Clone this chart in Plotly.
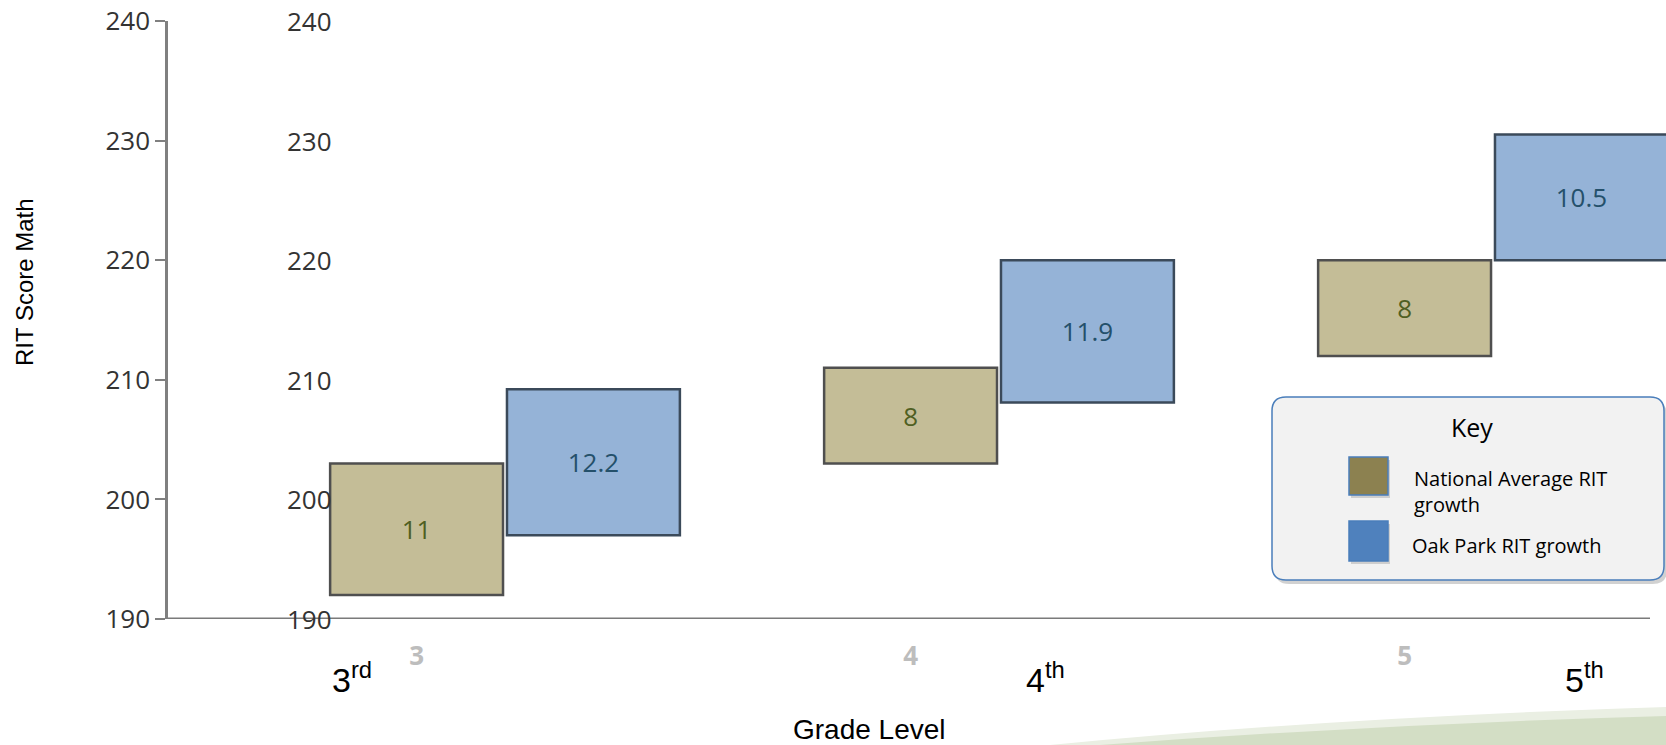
import plotly.graph_objects as go

# RIT growth by grade: each box starts at the fall score and spans the growth
grades = [3, 4, 5]
grade_tick_labels = ["3", "4", "5"]
ordinal_labels = ["3<sup>rd</sup>", "4<sup>th</sup>", "5<sup>th</sup>"]

national_start = [192, 203, 212]
national_growth = [11, 8, 8]

oak_park_start = [197, 208.1, 220]
oak_park_growth = [12.2, 11.9, 10.5]

y_ticks = [190, 200, 210, 220, 230, 240]

# ---- layout geometry (pixels) ----
W, H = 1666, 745
ML, MR, MT, MB = 168, 0, 21, 126
PW, PH = W - ML - MR, H - MT - MB
X_RANGE = [2.3178, 5.3502]
BAR_W = 0.35
NAT_OFF = -0.354
OAK_OFF = 0.004


def px(x):
    return (x - ML) / PW


def py(y):
    return (H - MB - y) / PH


fig = go.Figure()

fig.add_trace(go.Bar(
    x=grades, y=national_growth, base=national_start,
    width=BAR_W, offset=NAT_OFF,
    marker=dict(color="#C4BD97", line=dict(color="#4F4F4F", width=2.5)),
    text=[f"{v:g}" for v in national_growth], texttemplate="%{text}",
    textposition="inside", insidetextanchor="middle", textangle=0,
    constraintext="none",
    textfont=dict(family="Open Sans", size=26, color="#4F5F22"),
    hoverinfo="skip", showlegend=False,
))

fig.add_trace(go.Bar(
    x=grades, y=oak_park_growth, base=oak_park_start,
    width=BAR_W, offset=OAK_OFF,
    marker=dict(color="#95B3D7", line=dict(color="#3B4A5A", width=2.5)),
    text=[f"{v:g}" for v in oak_park_growth], texttemplate="%{text}",
    textposition="inside", insidetextanchor="middle", textangle=0,
    constraintext="none",
    textfont=dict(family="Open Sans", size=26, color="#24506A"),
    hoverinfo="skip", showlegend=False,
))

tick_font = dict(family="Open Sans", size=26, color="#333333")

shapes = []

# x axis baseline
shapes.append(dict(type="line", xref="paper", yref="y",
                   x0=0, x1=px(1650), y0=190, y1=190,
                   line=dict(color="#7A7A7A", width=3), layer="above"))

# decorative green swoosh at the bottom right
shapes.append(dict(type="path", xref="paper", yref="paper", layer="below",
                   path=f"M {px(1050)},{py(745)} Q {px(1340)},{py(717)} {px(1666)},{py(707)} "
                        f"L {px(1666)},{py(745)} Z",
                   fillcolor="#EAEFE3", line=dict(width=0)))
shapes.append(dict(type="path", xref="paper", yref="paper", layer="below",
                   path=f"M {px(1100)},{py(745)} Q {px(1380)},{py(724)} {px(1666)},{py(716)} "
                        f"L {px(1666)},{py(745)} Z",
                   fillcolor="#D3DEC5", line=dict(width=0)))


def rounded_rect(x0, y0, x1, y1, r):
    return (f"M {px(x0 + r)},{py(y0)} L {px(x1 - r)},{py(y0)} "
            f"Q {px(x1)},{py(y0)} {px(x1)},{py(y0 + r)} "
            f"L {px(x1)},{py(y1 - r)} Q {px(x1)},{py(y1)} {px(x1 - r)},{py(y1)} "
            f"L {px(x0 + r)},{py(y1)} Q {px(x0)},{py(y1)} {px(x0)},{py(y1 - r)} "
            f"L {px(x0)},{py(y0 + r)} Q {px(x0)},{py(y0)} {px(x0 + r)},{py(y0)} Z")


# key box with soft shadow
shapes.append(dict(type="path", xref="paper", yref="paper", layer="above",
                   path=rounded_rect(1275, 401, 1667, 584, 14),
                   fillcolor="rgba(0,0,0,0.18)", line=dict(width=0)))
shapes.append(dict(type="path", xref="paper", yref="paper", layer="above",
                   path=rounded_rect(1272, 397, 1664, 580, 14),
                   fillcolor="#F2F2F2", line=dict(color="#4A7EBB", width=1.5)))

# key swatches
for (x0, y0, x1, y1, col) in [(1349, 457, 1388, 495, "#8C8150"),
                              (1349, 521, 1388, 561, "#4F81BD")]:
    shapes.append(dict(type="rect", xref="paper", yref="paper", layer="above",
                       x0=px(x0 + 2), x1=px(x1 + 2), y0=py(y0 + 3), y1=py(y1 + 3),
                       fillcolor="rgba(0,0,0,0.15)", line=dict(width=0)))
    shapes.append(dict(type="rect", xref="paper", yref="paper", layer="above",
                       x0=px(x0), x1=px(x1), y0=py(y0), y1=py(y1),
                       fillcolor=col, line=dict(color="#4A7EBB", width=1.5)))

annotations = []

# second column of score labels inside the plot
for v in y_ticks:
    annotations.append(dict(x=px(334), y=v, xref="paper", yref="y",
                            text=str(v), showarrow=False,
                            xanchor="right", yanchor="middle",
                            font=tick_font))

# ordinal grade labels
ordinal_x = [3 - 0.354, 4 + 0.051, 5 + 0.142]
for xv, lab in zip(ordinal_x, ordinal_labels):
    annotations.append(dict(x=xv, y=py(677), xref="x", yref="paper",
                            text=lab, showarrow=False, xanchor="left", yanchor="middle",
                            font=dict(family="Liberation Sans", size=34, color="#000000")))

annotations.append(dict(x=px(869), y=py(729), xref="paper", yref="paper",
                        text="Grade Level", showarrow=False,
                        xanchor="center", yanchor="middle",
                        font=dict(family="Liberation Sans", size=28, color="#000000")))
annotations.append(dict(x=px(24), y=py(282), xref="paper", yref="paper",
                        text="RIT Score Math", showarrow=False, textangle=-90,
                        xanchor="center", yanchor="middle",
                        font=dict(family="Liberation Sans", size=24, color="#000000")))

# key texts
annotations.append(dict(x=px(1472), y=py(427), xref="paper", yref="paper",
                        text="Key", showarrow=False, xanchor="center", yanchor="middle",
                        font=dict(family="Open Sans", size=25, color="#000000")))
annotations.append(dict(x=px(1412), y=py(491), xref="paper", yref="paper",
                        text="National Average RIT<br>growth", showarrow=False,
                        xanchor="left", yanchor="middle", align="left",
                        font=dict(family="Open Sans", size=20, color="#000000")))
annotations.append(dict(x=px(1410), y=py(545), xref="paper", yref="paper",
                        text="Oak Park RIT growth", showarrow=False,
                        xanchor="left", yanchor="middle", align="left",
                        font=dict(family="Open Sans", size=20, color="#000000")))

fig.update_layout(
    width=W, height=H,
    margin=dict(l=ML, r=MR, t=MT, b=MB),
    paper_bgcolor="white", plot_bgcolor="white",
    barmode="overlay",
    showlegend=False,
    xaxis=dict(range=X_RANGE, showgrid=False, zeroline=False, showline=False,
               tickvals=[g + NAT_OFF + BAR_W / 2 for g in grades],
               ticktext=grade_tick_labels,
               ticks="outside", ticklen=14, tickcolor="rgba(0,0,0,0)",
               tickfont=dict(family="Open Sans", size=26, color="#BDBDBD", weight="bold")),
    yaxis=dict(range=[190, 240], tickvals=y_ticks, showgrid=False, zeroline=False,
               showline=True, linecolor="#808080", linewidth=2.5,
               ticks="outside", ticklen=10, tickwidth=2, tickcolor="#808080",
               tickfont=tick_font),
    shapes=shapes,
    annotations=annotations,
)

fig.write_html("out.html")
